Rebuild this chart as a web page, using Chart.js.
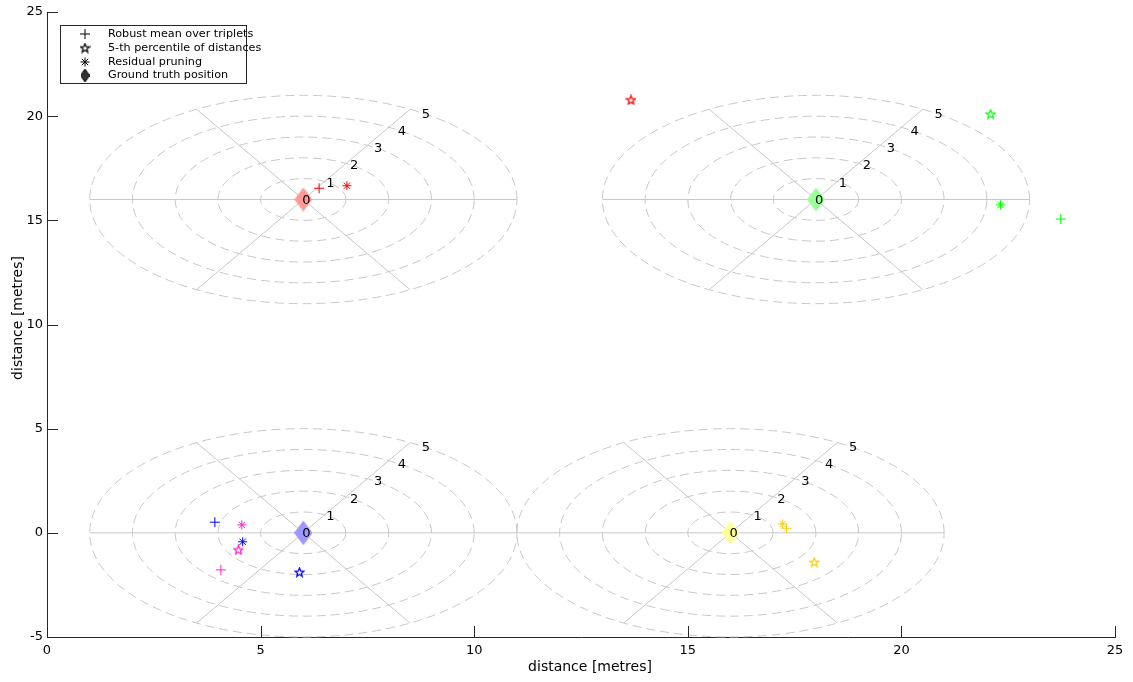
<!DOCTYPE html>
<html><head><meta charset="utf-8">
<script src="https://cdn.jsdelivr.net/npm/chart.js@4.4.1/dist/chart.umd.min.js"></script>
<style>html,body{margin:0;padding:0;background:#fff;}#wrap{width:1133px;height:682px;}</style>
</head><body><div id="wrap"><canvas id="c" width="1133" height="682"></canvas></div>
<script>
// ---- data ----
const xTicks=[0,5,10,15,20,25];
const yTicks=[-5,0,5,10,15,20,25];
const markerColors=['#ff0000','#00ff00','#0000ff','#ff22cc','#ffcc00'];
const diamondColors=['#ff9999','#99ff99','#9999ff','#ff99e0','#ffff99'];
const groundTruthX=[6,18,6,6,16];
const groundTruthY=[16,16,0,0,0];
const robustMeanX=[6.37,23.73,3.93,4.07,17.31];
const robustMeanY=[16.54,15.06,0.51,-1.78,0.22];
const percentileX=[13.67,22.09,5.91,4.48,17.96];
const percentileY=[20.78,20.10,-1.89,-0.82,-1.41];
const pruningX=[7.02,22.32,4.58,4.56,17.22];
const pruningY=[16.66,15.74,-0.43,0.38,0.43];
const gridCentersX=[6,18,6,16];
const gridCentersY=[16,16,0,0];
const gridRadii=[1,2,3,4,5];
const spokeAngles=[0,60,120];
const legendLabels=['Robust mean over triplets','5-th percentile of distances','Residual pruning','Ground truth position'];
const axisTitle='distance [metres]';

// ---- marker images ----
function pentagram(color){
  const c=document.createElement('canvas');c.width=11;c.height=11;
  const g=c.getContext('2d');g.strokeStyle=color;g.lineWidth=1.3;g.beginPath();
  for(let i=0;i<10;i++){const r=i%2?2.0:4.6;const a=-Math.PI/2+i*Math.PI/5;
    const px=5.5+r*Math.cos(a),py=5.8+r*Math.sin(a);i?g.lineTo(px,py):g.moveTo(px,py);}
  g.closePath();g.stroke();return c;
}
function diamond(color,w,h,edge){
  const c=document.createElement('canvas');c.width=w;c.height=h;
  const g=c.getContext('2d');g.fillStyle=color;g.beginPath();
  g.moveTo(w/2,0);g.lineTo(w,h/2);g.lineTo(w/2,h);g.lineTo(0,h/2);g.closePath();g.fill();
  if(edge){g.strokeStyle=edge;g.lineWidth=1;g.stroke();}
  return c;
}

const datasets=[];
markerColors.forEach((col,i)=>{
  datasets.push({label:'mean'+i,data:[{x:robustMeanX[i],y:robustMeanY[i]}],pointStyle:'cross',pointRadius:5,borderColor:col,borderWidth:1,order:1});
  datasets.push({label:'pct'+i,data:[{x:percentileX[i],y:percentileY[i]}],pointStyle:pentagram(col),pointRadius:5,borderColor:col,order:1});
  datasets.push({label:'prune'+i,data:[{x:pruningX[i],y:pruningY[i]}],pointStyle:'star',pointRadius:4.5,borderColor:col,borderWidth:1,order:1});
  datasets.push({label:'gt'+i,data:[{x:groundTruthX[i],y:groundTruthY[i]}],pointStyle:diamond(diamondColors[i],18,24),pointRadius:10,borderColor:diamondColors[i],order:10+i});
});

const FONT='"DejaVu Sans", sans-serif';
const polarGrid={id:'polarGrid',
  beforeDatasetsDraw(chart){
    const {ctx,scales:{x,y}}=chart;
    const ux=x.getPixelForValue(1)-x.getPixelForValue(0);
    const uy=y.getPixelForValue(0)-y.getPixelForValue(1);
    ctx.save();ctx.strokeStyle='#c8c8c8';ctx.lineWidth=1;
    gridCentersX.forEach((cx,i)=>{
      const px=x.getPixelForValue(cx),py=y.getPixelForValue(gridCentersY[i]);
      ctx.setLineDash([9,5]);
      gridRadii.forEach(r=>{ctx.beginPath();ctx.ellipse(px,py,r*ux,r*uy,0,0,2*Math.PI,true);ctx.stroke();});
      ctx.setLineDash([]);
      const R=gridRadii[gridRadii.length-1];
      spokeAngles.forEach(a=>{const t=a*Math.PI/180;ctx.beginPath();
        ctx.moveTo(px-R*Math.cos(t)*ux,py+R*Math.sin(t)*uy);ctx.lineTo(px+R*Math.cos(t)*ux,py-R*Math.sin(t)*uy);ctx.stroke();});
    });
    ctx.restore();
  },
  afterDatasetsDraw(chart){
    const {ctx,scales:{x,y}}=chart;
    const ux=x.getPixelForValue(1)-x.getPixelForValue(0);
    const uy=y.getPixelForValue(0)-y.getPixelForValue(1);
    const t=56*Math.PI/180;
    ctx.save();ctx.fillStyle='#000';ctx.font='13px '+FONT;ctx.textAlign='left';ctx.textBaseline='middle';
    gridCentersX.forEach((cx,i)=>{
      const px=x.getPixelForValue(cx),py=y.getPixelForValue(gridCentersY[i]);
      [0].concat(gridRadii).forEach(r=>{ctx.fillText(String(r),px+r*Math.cos(t)*ux-1,py-r*Math.sin(t)*uy+1);});
    });
    ctx.restore();
  },
  afterDraw(chart){
    const {ctx,scales:{x,y},chartArea:ca}=chart;
    ctx.save();ctx.strokeStyle='#262626';ctx.lineWidth=1;
    xTicks.forEach(v=>{const p=Math.round(x.getPixelForValue(v))+0.5;ctx.beginPath();ctx.moveTo(p,ca.bottom);ctx.lineTo(p,ca.bottom-11);ctx.stroke();});
    yTicks.forEach(v=>{const p=Math.round(y.getPixelForValue(v))+0.5;ctx.beginPath();ctx.moveTo(ca.left,p);ctx.lineTo(ca.left+11,p);ctx.stroke();});
    // axis titles
    ctx.fillStyle='#000';ctx.font='14px '+FONT;ctx.textAlign='center';ctx.textBaseline='middle';
    ctx.fillText(axisTitle,590,667);
    ctx.translate(18,318);ctx.rotate(-Math.PI/2);ctx.fillText(axisTitle,0,0);
    ctx.restore();
    // legend
    ctx.save();
    ctx.fillStyle='#fff';ctx.fillRect(60,25,186,59);
    ctx.strokeStyle='#262626';ctx.lineWidth=1;ctx.strokeRect(60.5,25.5,186,58);
    ctx.fillStyle='#000';ctx.font='11.2px '+FONT;ctx.textAlign='left';ctx.textBaseline='middle';
    const rows=[34,48,62,75.5];
    legendLabels.forEach((l,i)=>ctx.fillText(l,108,rows[i]));
    const mx=85;
    ctx.strokeStyle='#000';
    ctx.beginPath();ctx.moveTo(mx-5,rows[0]);ctx.lineTo(mx+5,rows[0]);ctx.moveTo(mx,rows[0]-5);ctx.lineTo(mx,rows[0]+5);ctx.stroke();
    ctx.drawImage(pentagram('#000'),mx-5.5,rows[1]-5.5);
    ctx.beginPath();const r=4.5;
    for(let k=0;k<4;k++){const a=k*Math.PI/4;ctx.moveTo(mx-r*Math.cos(a),rows[2]-r*Math.sin(a));ctx.lineTo(mx+r*Math.cos(a),rows[2]+r*Math.sin(a));}
    ctx.stroke();
    ctx.drawImage(diamond('#333',9,13,'#000'),mx-4.5,rows[3]-6.5);
    ctx.restore();
  }
};

new Chart(document.getElementById('c'),{
  type:'scatter',
  data:{datasets},
  options:{
    responsive:false,animation:false,
    layout:{padding:{left:0,top:12,right:18,bottom:0}},
    plugins:{legend:{display:false},tooltip:{enabled:false}},
    scales:{
      x:{type:'linear',min:0,max:25,
        afterBuildTicks:s=>{s.ticks=xTicks.map(v=>({value:v}));},
        afterFit:s=>{s.height=45;},
        grid:{display:false,drawTicks:false},
        border:{display:true,color:'#262626',width:1},
        ticks:{color:'#000',font:{family:FONT,size:13},padding:6,maxRotation:0}},
      y:{type:'linear',min:-5,max:25,
        afterBuildTicks:s=>{s.ticks=yTicks.map(v=>({value:v}));},
        afterFit:s=>{s.width=47;},
        grid:{display:false,drawTicks:false},
        border:{display:true,color:'#262626',width:1},
        ticks:{color:'#000',font:{family:FONT,size:13},padding:4}}
    }
  },
  plugins:[polarGrid]
});
</script></body></html>
